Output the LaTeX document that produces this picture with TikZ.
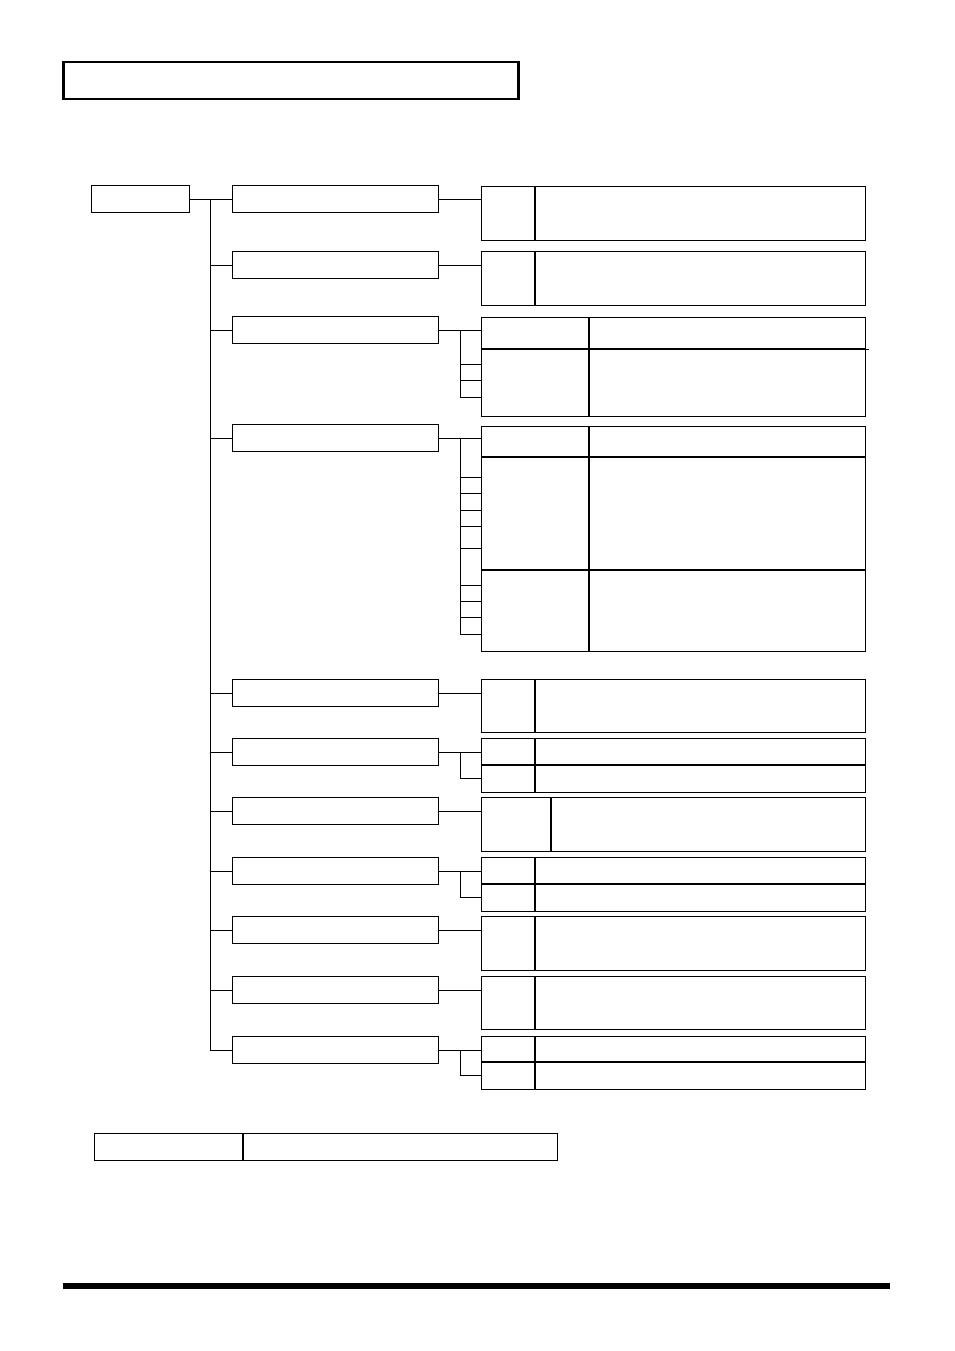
\documentclass[tikz,border=0pt]{standalone}
\usepackage{tikz}
\usetikzlibrary{calc, positioning}
\tikzset{
  lvlbox/.style={draw, line width=1.2pt, anchor=north west, minimum width=206pt, minimum height=27pt, inner sep=0pt},
  tabbox/.style={draw, line width=1.2pt, anchor=north west, minimum width=384pt, inner sep=0pt},
  wire/.style={line width=1pt},
}
\begin{document}
\begin{tikzpicture}[x=1pt, y=-1pt]
    \useasboundingbox (0,0) rectangle (954,1351);
    % header and footer
    \node[draw, line width=2.5pt, anchor=north west, minimum width=455pt, minimum height=37pt, inner sep=0pt] (title) at (62,61) {};
    \draw[line width=6pt] (63,1286) -- (890,1286);

    % root
    \node[draw, line width=1.2pt, anchor=north west, minimum width=98pt, minimum height=27pt, inner sep=0pt] (root) at (91,185) {};
    \coordinate (trunk) at (root.east -| 210,0);
    \draw[wire] (root.east) -- (trunk);

    % level boxes and tables
    \foreach \i/\top/\ttop/\th/\div in {1/185/186/54/535, 2/251/251/54/535, 3/316/317/99/589,
        4/424/426/225/589, 5/679/679/53/535, 6/738/738/54/535, 7/797/797/54/551,
        8/857/857/54/535, 9/916/916/54/535, 10/976/976/53/535, 11/1036/1036/53/535} {
        \node[lvlbox] (b\i) at (232,\top) {};
        \node[tabbox, minimum height=\th pt] (t\i) at (481,\ttop) {};
        \draw[line width=1.2pt] (\div,\ttop) -- (\div,\ttop+\th);
        \draw[wire] (trunk |- b\i.west) -- (b\i.west);
    }
    \draw[wire] (trunk) -- (trunk |- b11.west);

    % rows inside the tables
    \foreach \i/\y in {3/349, 4/457, 4/570, 6/765, 8/884, 11/1062}
        \draw[line width=1.2pt] (t\i.west |- 0,\y) -- (t\i.east |- 0,\y);
    \draw[line width=0.8pt] (865,349) -- (869,349);

    % single links
    \foreach \i in {1,2,5,7,9,10}
        \draw[wire] (b\i.east) -- (t\i.west |- b\i.east);

    % branched links
    \foreach \i/\ticks in {3/{364,380,397}, 4/{477,493,510,526,548,585,601,617,634},
        6/{778}, 8/{897}, 11/{1075}} {
        \coordinate (fork\i) at ($(b\i.east)+(21,0)$);
        \draw[wire] (b\i.east) -- (t\i.west |- b\i.east);
        \foreach \y in \ticks {
            \draw[wire] (fork\i |- 0,\y) -- (t\i.west |- 0,\y);
            \coordinate (last\i) at (fork\i |- 0,\y);
        }
        \draw[wire] (fork\i) -- (last\i);
    }

    % legend
    \node[draw, line width=1.2pt, anchor=north west, minimum width=463pt, minimum height=27pt, inner sep=0pt] (legend) at (94,1133) {};
    \draw[line width=1.2pt] (243,1133) -- (243,1160);
\end{tikzpicture}
\end{document}
